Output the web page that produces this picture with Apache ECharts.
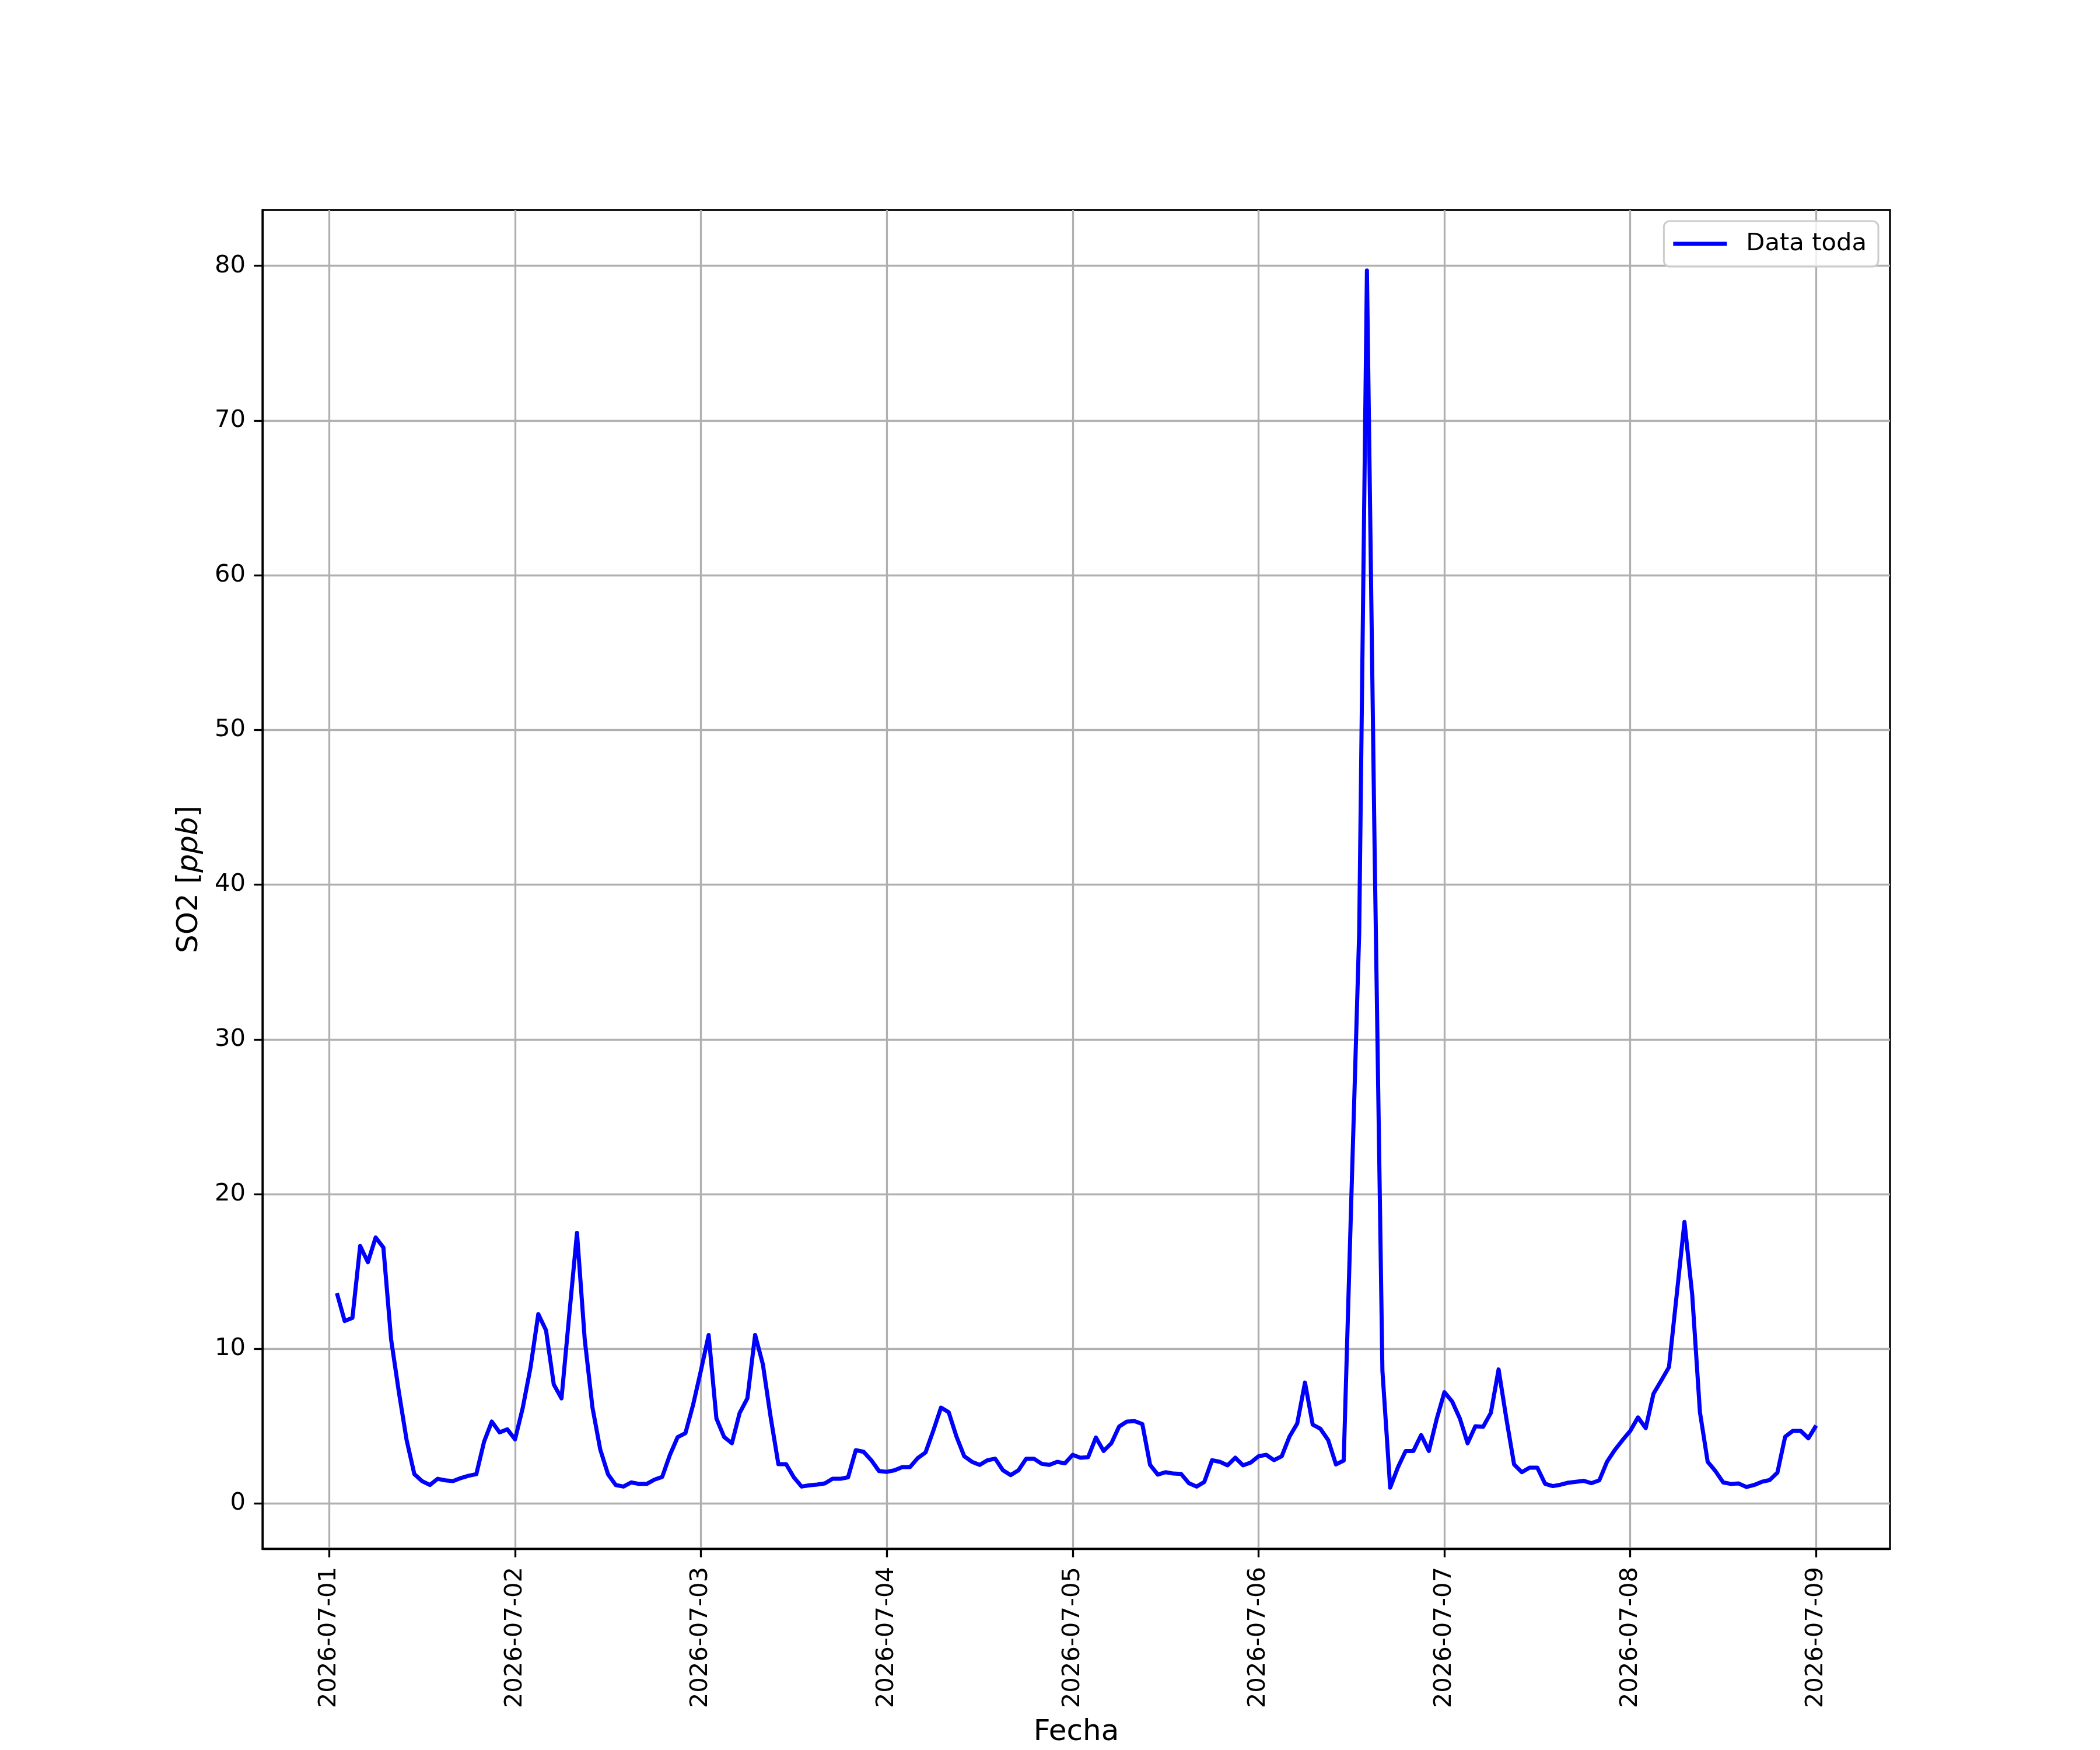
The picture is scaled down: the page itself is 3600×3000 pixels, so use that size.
<!DOCTYPE html>
<html>
<head>
<meta charset="utf-8">
<script src="https://cdn.jsdelivr.net/npm/echarts@6/dist/echarts.min.js"></script>
<style>
html,body{margin:0;padding:0;background:#ffffff;}
#chart{width:3600px;height:3000px;}
</style>
</head>
<body>
<div id="chart"></div>
<script>
// Hourly SO2 readings, first point 2026-07-01 01:00, last 2026-07-09 00:00
const seriesName = 'Data toda';
const day1 = [13.6, 11.8, 12.0, 16.65, 15.6, 17.2, 16.55, 10.6, 7.2, 4.1, 1.9, 1.45, 1.2, 1.6, 1.5, 1.45, 1.65, 1.8, 1.9, 4.0, 5.3, 4.6, 4.8, 4.15];
const day2 = [6.2, 8.8, 12.25, 11.2, 7.7, 6.8, 12.2, 17.5, 10.6, 6.2, 3.5, 1.9, 1.2, 1.1, 1.37, 1.27, 1.27, 1.55, 1.72, 3.15, 4.3, 4.55, 6.4, 8.6];
const day3 = [10.9, 5.5, 4.3, 3.9, 5.85, 6.8, 10.9, 9.0, 5.6, 2.55, 2.55, 1.7, 1.1, 1.18, 1.23, 1.3, 1.6, 1.6, 1.7, 3.45, 3.35, 2.8, 2.1, 2.05];
const day4 = [2.15, 2.36, 2.36, 2.94, 3.3, 4.7, 6.2, 5.9, 4.33, 3.06, 2.7, 2.5, 2.8, 2.9, 2.15, 1.84, 2.15, 2.9, 2.9, 2.57, 2.5, 2.7, 2.6, 3.15];
const day5 = [2.96, 3.0, 4.27, 3.4, 3.9, 4.98, 5.3, 5.33, 5.14, 2.5, 1.87, 2.03, 1.94, 1.92, 1.32, 1.1, 1.4, 2.8, 2.7, 2.47, 2.96, 2.47, 2.65, 3.06];
const day6 = [3.15, 2.81, 3.06, 4.33, 5.18, 7.82, 5.1, 4.83, 4.1, 2.53, 2.78, 20.0, 36.9, 79.7, 42.0, 8.57, 1.03, 2.34, 3.4, 3.4, 4.43, 3.4, 5.45, 7.2];
const day7 = [6.6, 5.5, 3.9, 5.0, 4.96, 5.86, 8.67, 5.5, 2.53, 2.03, 2.32, 2.32, 1.28, 1.13, 1.22, 1.35, 1.41, 1.47, 1.32, 1.5, 2.7, 3.46, 4.1, 4.7];
const day8 = [5.57, 4.88, 7.1, 7.95, 8.82, 13.5, 18.2, 13.5, 5.9, 2.7, 2.1, 1.37, 1.27, 1.3, 1.07, 1.2, 1.41, 1.52, 2.0, 4.32, 4.7, 4.7, 4.22, 5.04];

// x tick positions (hours since 2026-07-01 00:00) and their labels
const xTickHours = [0, 24, 48, 72, 96, 120, 144, 168, 192];
const xTickLabels = ['2026-07-01', '2026-07-02', '2026-07-03', '2026-07-04', '2026-07-05', '2026-07-06', '2026-07-07', '2026-07-08', '2026-07-09'];
const yTicks = [0, 10, 20, 30, 40, 50, 60, 70, 80];

const values = [].concat(day1, day2, day3, day4, day5, day6, day7, day8);
const points = values.map((v, i) => [i + 1, v]);

const FONT = 'DejaVu Sans';
const chart = echarts.init(document.getElementById('chart'), null, {renderer: 'canvas'});
chart.setOption({
  animation: false,
  backgroundColor: '#ffffff',
  grid: {
    left: 450, right: 360, top: 360, bottom: 330,
    show: true, borderColor: '#000000', borderWidth: 3.3, backgroundColor: 'transparent'
  },
  legend: {
    data: [seriesName],
    right: 380, top: 379,
    icon: 'rect', itemWidth: 92, itemHeight: 7,
    padding: [18, 20, 18, 16],
    backgroundColor: 'rgba(255,255,255,0.8)',
    borderColor: '#cccccc', borderWidth: 3, borderRadius: 10,
    textStyle: {fontFamily: FONT, fontSize: 41.7, color: '#000000', padding: [0, 0, 0, 28]}
  },
  xAxis: {
    type: 'value',
    min: -8.61, max: 201.54,
    name: 'Fecha', nameLocation: 'middle', nameGap: 290,
    nameTextStyle: {fontFamily: FONT, fontSize: 50, color: '#000000'},
    axisLine: {show: true, onZero: false, lineStyle: {color: '#000000', width: 3.3}},
    axisTick: {show: true, inside: false, length: 14.6, customValues: xTickHours, lineStyle: {color: '#000000', width: 3.3}},
    axisLabel: {
      show: true, rotate: 90, margin: 31, customValues: xTickHours,
      fontFamily: FONT, fontSize: 41.7, color: '#000000',
      formatter: function (v) { const k = xTickHours.indexOf(Math.round(v)); return k >= 0 ? xTickLabels[k] : ''; }
    },
    splitLine: {show: true, lineStyle: {color: '#b0b0b0', width: 3.3}}
  },
  yAxis: {
    type: 'value',
    min: -2.92, max: 83.61,
    name: '{n|SO2 [}{i|ppb}{n|]}', nameLocation: 'middle', nameGap: 100, nameRotate: 90,
    nameTextStyle: {
      fontFamily: FONT, fontSize: 50, color: '#000000',
      rich: {
        n: {fontFamily: FONT, fontSize: 50, color: '#000000'},
        i: {fontFamily: FONT, fontSize: 50, fontStyle: 'italic', color: '#000000'}
      }
    },
    axisLine: {show: true, onZero: false, lineStyle: {color: '#000000', width: 3.3}},
    axisTick: {show: true, inside: false, length: 14.6, customValues: yTicks, lineStyle: {color: '#000000', width: 3.3}},
    axisLabel: {show: true, margin: 29, customValues: yTicks, fontFamily: FONT, fontSize: 41.7, color: '#000000'},
    splitLine: {show: true, lineStyle: {color: '#b0b0b0', width: 3.3}}
  },
  series: [{
    name: seriesName,
    type: 'line',
    data: points,
    showSymbol: false,
    symbol: 'none',
    lineStyle: {color: '#0000ff', width: 7, join: 'round'},
    itemStyle: {color: '#0000ff'},
    z: 3
  }]
});
</script>
</body>
</html>
